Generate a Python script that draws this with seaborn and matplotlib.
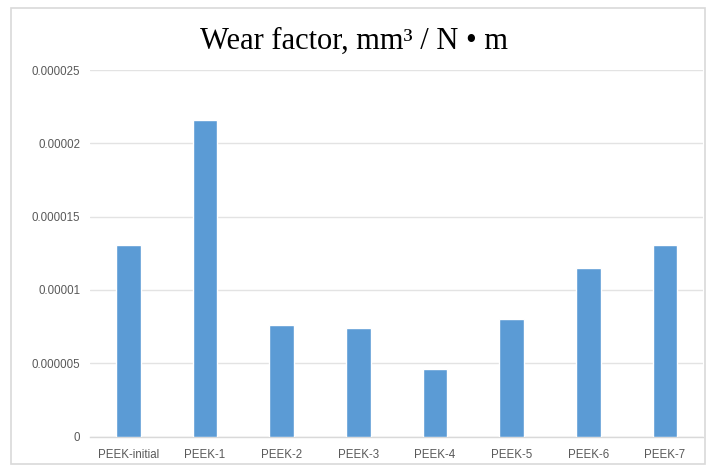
import matplotlib
matplotlib.use("Agg")
import matplotlib.pyplot as plt
from matplotlib.patches import Rectangle
import seaborn as sns
import pandas as pd

categories = ["PEEK-initial", "PEEK-1", "PEEK-2", "PEEK-3", "PEEK-4", "PEEK-5", "PEEK-6", "PEEK-7"]
wear_factor = [1.31e-5, 2.16e-5, 7.6e-6, 7.43e-6, 4.6e-6, 8.05e-6, 1.15e-5, 1.31e-5]
ytick_values = [0, 0.000005, 0.00001, 0.000015, 0.00002, 0.000025]
ytick_labels = ["0", "0.000005", "0.00001", "0.000015", "0.00002", "0.000025"]
title_text = "Wear factor, mm³ / N • m"

sns.set_theme(style="white")
plt.rcParams["font.family"] = ["Liberation Sans", "DejaVu Sans"]

df = pd.DataFrame({"sample": categories, "wear": wear_factor})

fig = plt.figure(figsize=(7.09, 4.70), dpi=100)
ax = fig.add_axes([0.127, 0.071, 0.865, 0.780])

sns.barplot(data=df, x="sample", y="wear", color="#5B9BD5", saturation=1,
            width=0.32, ax=ax, zorder=3)

ax.set_xlim(-0.5, len(categories) - 0.5)
ax.set_ylim(0, 0.000025)
ax.set_yticks(ytick_values)
ax.set_yticklabels(ytick_labels)
ax.set_xlabel("")
ax.set_ylabel("")
ax.tick_params(axis="both", length=0, labelsize=8.3, labelcolor="#595959")
ax.tick_params(axis="y", pad=7)
ax.tick_params(axis="x", pad=9)
ax.yaxis.grid(True, color="#E3E3E3", linewidth=1, zorder=0)
ax.set_axisbelow(True)
for s in ["left", "right", "top"]:
    ax.spines[s].set_visible(False)
ax.spines["bottom"].set_color("#D9D9D9")
ax.spines["bottom"].set_linewidth(1)

fig.text(0.50, 0.913, title_text, ha="center", va="center",
         fontsize=22, family=["Liberation Serif", "DejaVu Serif"], color="#000000")

fig.patches.append(Rectangle((0.016, 0.012), 0.978, 0.970, transform=fig.transFigure,
                             fill=False, edgecolor="#D9D9D9", linewidth=1.2))

fig.savefig("out.png", dpi=100)
